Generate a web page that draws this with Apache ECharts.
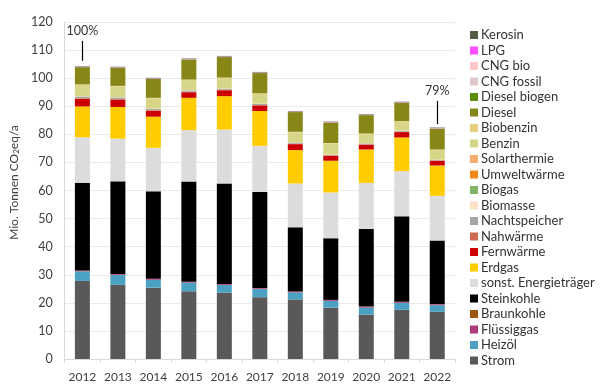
<!DOCTYPE html>
<html><head><meta charset="utf-8">
<script src="https://cdn.jsdelivr.net/npm/echarts@6/dist/echarts.min.js"></script>
<style>html,body{margin:0;padding:0;background:#fff}#c{width:605px;height:391px}</style>
</head><body><div id="c"></div>
<script>
const years = ['2012','2013','2014','2015','2016','2017','2018','2019','2020','2021','2022'];
const yTicks = {min: 0, max: 120, interval: 10};
// series values (Mio. t CO2eq/a), bottom to top of stack
const strom        = [27.8, 26.4, 25.4, 24.1, 23.6, 22.0, 21.2, 18.3, 15.8, 17.5, 16.8];
const heizoel      = [3.4, 3.5, 2.8, 3.1, 2.8, 2.9, 2.5, 2.4, 2.5, 2.5, 2.4];
const fluessiggas  = [0.3, 0.3, 0.3, 0.3, 0.3, 0.3, 0.3, 0.3, 0.3, 0.3, 0.3];
const braunkohle   = [0.05, 0.05, 0.05, 0.05, 0.05, 0.05, 0.05, 0.05, 0.05, 0.05, 0.05];
const steinkohle   = [31.2, 33.0, 31.15, 35.65, 35.75, 34.25, 22.85, 21.95, 27.65, 30.45, 22.65];
const sonstige     = [16.2, 15.2, 15.5, 18.3, 19.2, 16.4, 15.6, 16.3, 16.4, 16.1, 15.9];
const erdgas       = [11.0, 11.3, 11.1, 11.5, 11.9, 12.4, 11.9, 11.3, 11.9, 12.0, 10.8];
const fernwaerme   = [2.7, 2.6, 2.1, 2.0, 2.1, 2.0, 2.1, 1.8, 1.7, 1.9, 1.7];
const nahwaerme    = [0.2, 0.2, 0.2, 0.2, 0.15, 0.15, 0.15, 0.1, 0.15, 0.15, 0.1];
const nachtspeicher= [0.5, 0.5, 0.4, 0.4, 0.35, 0.35, 0.35, 0.15, 0.25, 0.25, 0.15];
const biomasse     = [0.15, 0.12, 0.12, 0.12, 0.12, 0.12, 0.12, 0.08, 0.12, 0.12, 0.08];
const biogas       = [0.03, 0.03, 0.03, 0.03, 0.03, 0.03, 0.03, 0.03, 0.03, 0.03, 0.03];
const umweltwaerme = [0.03, 0.03, 0.03, 0.03, 0.03, 0.03, 0.03, 0.03, 0.03, 0.03, 0.03];
const solarthermie = [0.02, 0.02, 0.02, 0.02, 0.02, 0.02, 0.02, 0.02, 0.02, 0.02, 0.02];
const benzin       = [4.0, 3.8, 3.6, 3.5, 3.6, 3.4, 3.5, 3.9, 3.2, 3.1, 3.4];
const biobenzin    = [0.2, 0.2, 0.2, 0.2, 0.2, 0.2, 0.2, 0.2, 0.2, 0.2, 0.2];
const diesel       = [6.1, 6.4, 6.7, 7.1, 7.3, 7.2, 7.0, 7.2, 6.5, 6.5, 7.4];
const dieselBiogen = [0.1, 0.1, 0.1, 0.1, 0.1, 0.1, 0.1, 0.1, 0.1, 0.1, 0.1];
const cngFossil    = [0.05, 0.05, 0.05, 0.05, 0.05, 0.05, 0.05, 0.05, 0.05, 0.05, 0.05];
const cngBio       = [0.02, 0.02, 0.02, 0.02, 0.02, 0.02, 0.02, 0.02, 0.02, 0.02, 0.02];
const lpg          = [0.1, 0.1, 0.1, 0.1, 0.1, 0.1, 0.1, 0.1, 0.1, 0.1, 0.1];
const kerosin      = [0.15, 0.15, 0.15, 0.15, 0.15, 0.15, 0.15, 0.15, 0.15, 0.15, 0.15];
// annotations
const annoYears = ['2012', '2022'];
const annoLabels = ['100%', '79%'];
const annoFrom = [106.2, 83.6];
const annoTo = [113.3, 91.9];

const seriesDefs = [
  ['Strom', strom, '#595959'],
  ['Heizöl', heizoel, '#4ba1c1'],
  ['Flüssiggas', fluessiggas, '#b03a7a'],
  ['Braunkohle', braunkohle, '#9c5714'],
  ['Steinkohle', steinkohle, '#000000'],
  ['sonst. Energieträger', sonstige, '#dcdcdc'],
  ['Erdgas', erdgas, '#ffcc00'],
  ['Fernwärme', fernwaerme, '#cc0000'],
  ['Nahwärme', nahwaerme, '#cc6a52'],
  ['Nachtspeicher', nachtspeicher, '#a5a5a5'],
  ['Biomasse', biomasse, '#fce0c4'],
  ['Biogas', biogas, '#85b36a'],
  ['Umweltwärme', umweltwaerme, '#ef8a1a'],
  ['Solarthermie', solarthermie, '#f4b06a'],
  ['Benzin', benzin, '#d7d688'],
  ['Biobenzin', biobenzin, '#e8d07c'],
  ['Diesel', diesel, '#878717'],
  ['Diesel biogen', dieselBiogen, '#5f8a10'],
  ['CNG fossil', cngFossil, '#e0c8c8'],
  ['CNG bio', cngBio, '#ffc7c7'],
  ['LPG', lpg, '#ff4dff'],
  ['Kerosin', kerosin, '#545b44']
];

const FONT = 'Lato';
const series = seriesDefs.map(([name, data, color], i) => {
  const s = {
    name, type: 'bar', stack: 'total', data, barWidth: 15,
    itemStyle: {color}, emphasis: {disabled: true}
  };
  if (i === seriesDefs.length - 1) {
    s.markLine = {
      silent: true, symbol: 'none',
      lineStyle: {color: '#000', width: 1.2, type: 'solid'},
      label: {show: true, position: 'end', distance: 3, color: '#333', fontFamily: FONT, fontSize: 12.5,
              formatter: p => p.data.name || ''},
      data: annoYears.map((y, k) => [
        {coord: [y, annoFrom[k]], name: annoLabels[k]},
        {coord: [y, annoTo[k]]}
      ])
    };
  }
  return s;
});

const chart = echarts.init(document.getElementById('c'), null, {renderer: 'canvas'});
chart.setOption({
  animation: false,
  backgroundColor: '#fff',
  textStyle: {fontFamily: FONT},
  grid: {left: 61, right: 150, top: 22, bottom: 32, containLabel: false},
  legend: {
    orient: 'vertical', left: 470, top: 28.5, padding: 0, height: 380,
    itemWidth: 8, itemHeight: 8, itemGap: 2.5,
    icon: 'rect',
    textStyle: {fontFamily: FONT, fontSize: 13, color: '#333', lineHeight: 12, padding: [0,0,0,-2]},
    data: seriesDefs.map(d => d[0]).reverse()
  },
  xAxis: {
    type: 'category', data: years,
    axisLine: {lineStyle: {color: '#d9d9d9'}},
    axisTick: {show: true, length: 4, lineStyle: {color: '#d9d9d9'}},
    axisLabel: {color: '#404040', fontSize: 12, fontFamily: FONT, margin: 12, interval: 0}
  },
  yAxis: {
    type: 'value', min: yTicks.min, max: yTicks.max, interval: yTicks.interval,
    name: 'Mio. Tonnen CO{sub|2}eq/a',
    nameLocation: 'middle', nameGap: 31, nameRotate: 90,
    nameTextStyle: {color: '#404040', fontSize: 12, fontFamily: FONT, padding: [0, 0, 0, 16],
      rich: {sub: {fontSize: 8, verticalAlign: 'bottom', padding: [4,0,0,0], color: '#404040', fontFamily: FONT}}},
    axisLine: {show: true, lineStyle: {color: '#d9d9d9'}},
    axisTick: {show: false},
    axisLabel: {color: '#404040', fontSize: 12.5, fontFamily: FONT, margin: 12},
    splitLine: {lineStyle: {color: '#ebebeb'}}
  },
  series
});
</script></body></html>
